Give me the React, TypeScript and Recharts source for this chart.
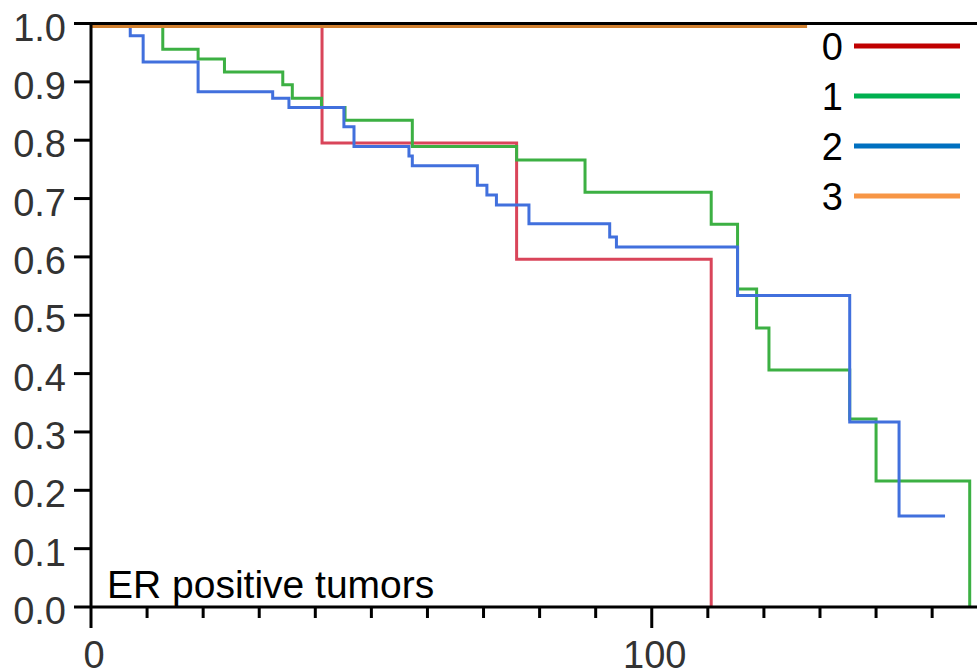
import React from "react"
import { LineChart, Line, XAxis, YAxis, ReferenceLine, Legend } from "recharts"

// Kaplan-Meier curves, ER positive tumors
const GROUPS = ["0", "1", "2", "3"]
const LINE_COLORS = ["#d9455a", "#3cb043", "#4170dd", "#d08030"]
const LEGEND_COLORS = ["#c00000", "#00b050", "#0070c0", "#f79646"]

const TIMES_0 = [0, 41.2, 75.9, 110.6]
const SURV_0 = [1, 0.795, 0.596, 0]

const TIMES_1 = [0, 12.8, 19.1, 23.8, 34.2, 35.9, 41.1, 45.3, 57.3, 75.9, 88.1, 110.6, 115.3, 118.7, 120.9, 135.3, 140.0, 156.7]
const SURV_1 = [1, 0.956, 0.939, 0.917, 0.895, 0.872, 0.856, 0.834, 0.789, 0.766, 0.711, 0.656, 0.545, 0.478, 0.406, 0.322, 0.216, 0]

const TIMES_2 = [0, 7.0, 9.3, 19.1, 32.4, 35.3, 45.1, 46.9, 56.7, 57.3, 68.9, 70.6, 72.3, 78.1, 92.5, 93.7, 115.3, 135.3, 144.1, 152.3]
const SURV_2 = [1, 0.979, 0.934, 0.883, 0.872, 0.856, 0.823, 0.789, 0.773, 0.756, 0.723, 0.706, 0.689, 0.657, 0.634, 0.617, 0.534, 0.317, 0.156, 0.156]

const TIMES_3 = [0, 127.7]
const SURV_3 = [0.995, 0.995]

const X_TICKS = [0, 10, 20, 30, 40, 50, 60, 70, 80, 90, 100, 110, 120, 130, 140, 150]
const X_LABELED = [0, 100]
const Y_TICKS = [0, 0.1, 0.2, 0.3, 0.4, 0.5, 0.6, 0.7, 0.8, 0.9, 1.0]

const FONT = "'Liberation Sans', Arial, sans-serif"

const toSeries = (times: number[], surv: number[]) =>
  times.map((t, i) => ({ t, s: surv[i] }))

const SERIES = [
  toSeries(TIMES_0, SURV_0),
  toSeries(TIMES_1, SURV_1),
  toSeries(TIMES_2, SURV_2),
  toSeries(TIMES_3, SURV_3),
]

const YTick = ({ x, y, payload }: any) => (
  <g>
    <line x1={x - 17} x2={x} y1={y} y2={y} stroke="#000" strokeWidth={3} />
    <text x={x - 25} y={y} dy={17} textAnchor="end" fontSize={38} fill="#333" fontFamily={FONT}>
      {Number(payload.value).toFixed(1)}
    </text>
  </g>
)

const XTick = ({ x, y, payload }: any) => {
  const major = X_LABELED.includes(payload.value)
  return (
    <g>
      <line x1={x} x2={x} y1={y} y2={y + (major ? 21 : 11)} stroke="#000" strokeWidth={3} />
      {major && (
        <text x={x + 3} y={y} dy={61} textAnchor="middle" fontSize={38} fill="#333" fontFamily={FONT}>
          {payload.value}
        </text>
      )}
    </g>
  )
}

const KmLegend = () => (
  <svg width={977} height={230}>
    {GROUPS.map((g, i) => {
      const cy = 46 + i * 50
      return (
        <g key={g}>
          <text x={843} y={cy + 14} textAnchor="end" fontSize={38} fill="#000" fontFamily={FONT}>
            {g}
          </text>
          <line x1={854} x2={960} y1={cy} y2={cy} stroke={LEGEND_COLORS[i]} strokeWidth={5} />
        </g>
      )
    })}
  </svg>
)

export default function App() {
  return (
    <div style={{ position: "absolute", left: 0, top: 0, width: 977, height: 672, background: "#fff" }}>
      <LineChart width={977} height={672} margin={{ top: 23.5, right: 0, bottom: 0, left: 0 }}>
        <XAxis
          dataKey="t"
          type="number"
          domain={[0, 158]}
          ticks={X_TICKS}
          interval={0}
          height={65}
          tickLine={false}
          tickSize={0}
          tickMargin={0}
          axisLine={{ stroke: "#000", strokeWidth: 3 }}
          tick={<XTick />}
        />
        <YAxis
          type="number"
          domain={[0, 1]}
          ticks={Y_TICKS}
          interval={0}
          width={91}
          tickLine={false}
          tickSize={0}
          tickMargin={0}
          axisLine={{ stroke: "#000", strokeWidth: 3 }}
          tick={<YTick />}
        />
        {SERIES.map((data, i) => (
          <Line
            key={GROUPS[i]}
            data={data}
            dataKey="s"
            name={GROUPS[i]}
            type="stepAfter"
            stroke={LINE_COLORS[i]}
            strokeWidth={3}
            dot={false}
            activeDot={false}
            isAnimationActive={false}
          />
        ))}
        <ReferenceLine y={1} stroke="#000" strokeWidth={3} zIndex={1000} />
        <Legend
          layout="horizontal"
          verticalAlign="middle"
          align="center"
          wrapperStyle={{ left: 0, top: 0, width: 977, height: 230, pointerEvents: "none" }}
          content={<KmLegend />}
        />
      </LineChart>
      <svg width={977} height={672} style={{ position: "absolute", left: 0, top: 0, pointerEvents: "none" }}>
        <text x={107} y={597.5} fontSize={39} fill="#000" fontFamily={FONT}>
          ER positive tumors
        </text>
      </svg>
    </div>
  )
}
